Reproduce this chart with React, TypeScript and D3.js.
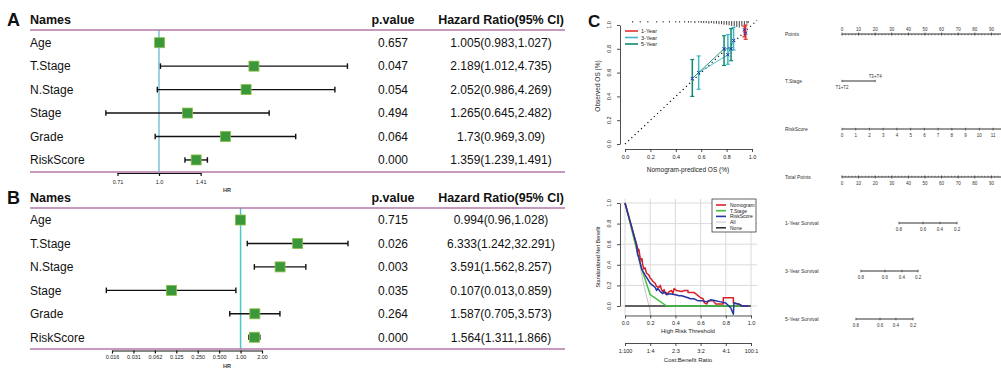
import React, { useEffect, useRef } from "react";
import * as d3 from "d3";

const FONT = "'Liberation Sans', Arial, Helvetica, sans-serif";

// ---- forest plot data ----
const names = ["Age", "T.Stage", "N.Stage", "Stage", "Grade", "RiskScore"];

const uniHR = [1.005, 2.189, 2.052, 1.265, 1.73, 1.359];
const uniLo = [0.983, 1.012, 0.986, 0.645, 0.969, 1.239];
const uniHi = [1.027, 4.735, 4.269, 2.482, 3.09, 1.491];
const uniP = ["0.657", "0.047", "0.054", "0.494", "0.064", "0.000"];
const uniTxt = [
  "1.005(0.983,1.027)",
  "2.189(1.012,4.735)",
  "2.052(0.986,4.269)",
  "1.265(0.645,2.482)",
  "1.73(0.969,3.09)",
  "1.359(1.239,1.491)",
];
const uniTicks = [0.71, 1.0, 1.41];
const uniTickLabels = ["0.71", "1.0", "1.41"];

const multiHR = [0.994, 6.333, 3.591, 0.107, 1.587, 1.564];
const multiLo = [0.96, 1.242, 1.562, 0.013, 0.705, 1.311];
const multiHi = [1.028, 32.291, 8.257, 0.859, 3.573, 1.866];
const multiP = ["0.715", "0.026", "0.003", "0.035", "0.264", "0.000"];
const multiTxt = [
  "0.994(0.96,1.028)",
  "6.333(1.242,32.291)",
  "3.591(1.562,8.257)",
  "0.107(0.013,0.859)",
  "1.587(0.705,3.573)",
  "1.564(1.311,1.866)",
];
const multiTicks = [0.015625, 0.03125, 0.0625, 0.125, 0.25, 0.5, 1, 2];
const multiTickLabels = ["0.016", "0.031", "0.062", "0.125", "0.250", "0.500", "1.00", "2.00"];

// ---- calibration data ----
const calYears = ["1-Year", "3-Year", "5-Year"];
const calColors = ["#e0302e", "#3cb6c8", "#0e8a6c"];
const calPred = [[0.94, 0.95], [0.58, 0.81, 0.855], [0.53, 0.78, 0.835]];
const calObs = [[0.96, 0.93], [0.6, 0.75, 0.87], [0.55, 0.8, 0.8]];
const calLo = [[0.9, 0.88], [0.46, 0.67, 0.79], [0.4, 0.66, 0.7]];
const calHi = [[0.99, 1.0], [0.74, 0.92, 0.98], [0.71, 0.91, 0.97]];
const rugX = [0.06, 0.12, 0.18, 0.25, 0.3, 0.35, 0.4, 0.43, 0.47, 0.5, 0.52, 0.55, 0.58, 0.6, 0.62, 0.64, 0.66, 0.68, 0.7, 0.72, 0.74, 0.76, 0.78, 0.8, 0.82, 0.84, 0.86, 0.88, 0.9, 0.92, 0.94, 0.96, 0.97];
const rugN = [1, 1, 1, 1, 1, 1, 1, 1, 1, 1, 1, 2, 1, 2, 2, 2, 3, 2, 3, 3, 4, 4, 5, 5, 6, 7, 8, 9, 10, 8, 6, 3, 2];

// ---- decision curve data ----
const dcaNames = ["Nomogram", "T.Stage", "RiskScore", "All", "None"];
const dcaColors = ["#d8222a", "#3ec43e", "#2535a4", "#c4c4c4", "#333333"];
const nomogramNB: [number, number][] = [
  [0, 1], [0.05, 0.78], [0.1, 0.56], [0.105, 0.53], [0.11, 0.55], [0.12, 0.47], [0.13, 0.44], [0.135, 0.46],
  [0.14, 0.4], [0.15, 0.36], [0.16, 0.37], [0.17, 0.32], [0.19, 0.3], [0.2, 0.27], [0.21, 0.26], [0.22, 0.24],
  [0.24, 0.22], [0.25, 0.19], [0.27, 0.18], [0.28, 0.2], [0.29, 0.16], [0.3, 0.14], [0.31, 0.16], [0.32, 0.12],
  [0.33, 0.13], [0.34, 0.11], [0.35, 0.14], [0.37, 0.15], [0.38, 0.12], [0.39, 0.17], [0.41, 0.15], [0.45, 0.14],
  [0.47, 0.15], [0.5, 0.15], [0.5, 0.13], [0.55, 0.13], [0.57, 0.11], [0.6, 0.08], [0.62, 0.07], [0.63, 0.03],
  [0.65, 0.02], [0.66, 0.05], [0.7, 0.05], [0.72, 0.02], [0.78, 0.02], [0.78, 0.08], [0.86, 0.08], [0.86, 0.03],
  [0.9, 0.02], [0.93, 0.0], [0.97, 0.0],
];
const tstageNB: [number, number][] = [[0, 1], [0.13, 0.37], [0.2, 0.11], [0.33, 0.0], [0.93, 0.0]];
const riskNB: [number, number][] = [
  [0, 1], [0.05, 0.78], [0.09, 0.6], [0.1, 0.5], [0.11, 0.47], [0.12, 0.42], [0.13, 0.37], [0.14, 0.34],
  [0.16, 0.3], [0.17, 0.28], [0.18, 0.26], [0.2, 0.22], [0.22, 0.2], [0.24, 0.18], [0.25, 0.15], [0.26, 0.17],
  [0.28, 0.14], [0.3, 0.12], [0.31, 0.14], [0.33, 0.11], [0.35, 0.12], [0.4, 0.11], [0.43, 0.1], [0.45, 0.1],
  [0.5, 0.08], [0.52, 0.07], [0.55, 0.07], [0.58, 0.05], [0.62, 0.05], [0.65, 0.04], [0.68, 0.06], [0.72, 0.05],
  [0.76, 0.04], [0.8, 0.03], [0.84, -0.02], [0.86, -0.08], [0.865, 0.03], [0.9, 0.02], [0.93, 0.0], [0.98, 0.0],
];
const allNB: [number, number][] = [[0, 1], [0.05, 0.76], [0.1, 0.5], [0.15, 0.2], [0.19, 0.0], [0.21, -0.12]];
const noneNB: [number, number][] = [[0, 0], [1, 0]];
const costLabels = ["1:100", "1:4", "2:3", "3:2", "4:1", "100:1"];

// ---- nomogram data ----
const pointTicks = [0, 10, 20, 30, 40, 50, 60, 70, 80, 90, 100];
const pointLabels = [0, 10, 20, 30, 40, 50, 60, 70, 80, 90];
const tStageLevels = ["T1+T2", "T3+T4"];
const tStagePts = [0, 20];
const riskTicks = [0, 1, 2, 3, 4, 5, 6, 7, 8, 9, 10, 11, 12];
const riskLabels = [0, 1, 2, 3, 4, 5, 6, 7, 8, 9, 10, 11];
const riskPtsAt11 = 91;
const survLabels = ["0.8", "0.6", "0.4", "0.2"];
const surv1Pts = [34.3, 48.8, 59.0, 69.3];
const surv3Pts = [11.4, 25.9, 36.1, 45.8];
const surv5Pts = [8.4, 22.9, 32.5, 42.8];

const App = () => {
  const ref = useRef<SVGSVGElement>(null);

  useEffect(() => {
    draw();
  });

  const forest = (svg: any, c: any) => {
    const g = svg.append("g").attr("font-family", FONT).attr("fill", "#111");
    g.append("text").attr("x", 7).attr("y", c.headY + 7).attr("font-size", 18).attr("font-weight", "bold").text(c.letter);
    const head = g.append("g").attr("font-size", 12.5).attr("font-weight", "bold");
    head.append("text").attr("x", 30).attr("y", c.headY + 4.5).text("Names");
    head.append("text").attr("x", 393).attr("y", c.headY + 4.5).attr("text-anchor", "middle").text("p.value");
    head.append("text").attr("x", 501).attr("y", c.headY + 4.5).attr("text-anchor", "middle").text("Hazard Ratio(95% CI)");

    const y = d3.scalePoint().domain(names).range([c.rowTop, c.rowTop + 5 * 23.45]);
    const x = d3.scaleLog().base(2).domain(c.domain).range(c.range);

    // reference line at HR = 1
    g.append("line")
      .attr("x1", x(1)).attr("x2", x(1))
      .attr("y1", c.lineTop).attr("y2", c.lineBottom)
      .attr("stroke", c.refColor).attr("stroke-width", 1.5);

    [c.lineTop, c.lineBottom].forEach((ly: number) => {
      g.append("line")
        .attr("x1", 30).attr("x2", 565).attr("y1", ly).attr("y2", ly)
        .attr("stroke", "#b07aa8").attr("stroke-width", 1.5);
    });

    const rows = g.selectAll("g.row").data(names).enter().append("g").attr("class", "row");
    rows.append("text").attr("x", 30).attr("y", (d: string) => (y(d) as number) + 4.3).attr("font-size", 12).text((d: string) => d);
    rows.append("text").attr("x", 393).attr("y", (d: string) => (y(d) as number) + 4.3).attr("font-size", 12)
      .attr("text-anchor", "middle").text((d: string, i: number) => c.p[i]);
    rows.append("text").attr("x", 501).attr("y", (d: string) => (y(d) as number) + 4.3).attr("font-size", 12)
      .attr("text-anchor", "middle").text((d: string, i: number) => c.txt[i]);

    rows.append("line")
      .attr("x1", (d: string, i: number) => x(c.lo[i])).attr("x2", (d: string, i: number) => x(c.hi[i]))
      .attr("y1", (d: string) => y(d)).attr("y2", (d: string) => y(d))
      .attr("stroke", "#111").attr("stroke-width", 1.4);
    ["lo", "hi"].forEach((k) => {
      rows.append("line")
        .attr("x1", (d: string, i: number) => x(c[k][i])).attr("x2", (d: string, i: number) => x(c[k][i]))
        .attr("y1", (d: string) => (y(d) as number) - 2.8).attr("y2", (d: string) => (y(d) as number) + 2.8)
        .attr("stroke", "#111").attr("stroke-width", 1.4);
    });
    rows.append("rect")
      .attr("x", (d: string, i: number) => x(c.hr[i]) - 5).attr("y", (d: string) => (y(d) as number) - 5)
      .attr("width", 10).attr("height", 10)
      .attr("fill", "#3a983a").attr("stroke", "#8cbf4a").attr("stroke-width", 0.8);

    const ax = g.append("g")
      .attr("transform", `translate(0,${c.axisY})`)
      .call(
        d3.axisBottom(x).tickValues(c.ticks).tickFormat((d: any, i: number) => c.tickLabels[i])
          .tickSize(3).tickSizeOuter(0).tickPadding(c.pad)
      );
    ax.attr("font-family", FONT).attr("font-size", 5.5);
    ax.selectAll("path, line").attr("stroke", "#111").attr("stroke-width", 1.2);
    ax.selectAll("text").attr("fill", "#222");
    g.append("text").attr("x", 227).attr("y", c.hrY + 2).attr("font-size", 5.5).attr("font-weight", "bold")
      .attr("text-anchor", "middle").attr("fill", "#333").text("HR");
  };

  const rotLabels = (g: any, vals: number[], sc: any, xPos: number, size: number) => {
    vals.forEach((v) => {
      g.append("text")
        .attr("transform", `translate(${xPos},${sc(v)}) rotate(-90)`)
        .attr("text-anchor", "middle").attr("font-size", size).attr("fill", "#222")
        .text(d3.format(".1f")(v));
    });
  };

  const styleAxis = (ax: any, size: number) => {
    ax.attr("font-family", FONT).attr("font-size", size);
    ax.selectAll("path, line").attr("stroke", "#222").attr("stroke-width", 0.8);
    ax.selectAll("text").attr("fill", "#222");
  };

  const calibration = (svg: any) => {
    const g = svg.append("g").attr("font-family", FONT);
    g.append("text").attr("x", 588).attr("y", 27).attr("font-size", 17).attr("font-weight", "bold").attr("fill", "#111").text("C");

    const x = d3.scaleLinear().domain([0, 1]).range([625, 752]);
    const y = d3.scaleLinear().domain([0, 1]).range([144, 25]);
    const tv = [0, 0.2, 0.4, 0.6, 0.8, 1];

    const ax = g.append("g").attr("transform", "translate(0,149)")
      .call(d3.axisBottom(x).tickValues(tv).tickFormat(d3.format(".1f")).tickSize(3).tickSizeOuter(0).tickPadding(3));
    styleAxis(ax, 5.5);
    const ay = g.append("g").attr("transform", "translate(620,0)")
      .call(d3.axisLeft(y).tickValues(tv).tickFormat(() => "").tickSize(3).tickSizeOuter(0));
    styleAxis(ay, 5.5);
    rotLabels(g, tv, y, 611, 5.5);

    g.append("text").attr("x", 688).attr("y", 172).attr("text-anchor", "middle").attr("font-size", 6.5).attr("fill", "#222")
      .text("Nomogram-prediced OS (%)");
    g.append("text").attr("transform", "translate(599.5,86) rotate(-90)").attr("text-anchor", "middle")
      .attr("font-size", 6.5).attr("fill", "#222").text("Observed OS (%)");

    // ideal line
    g.append("line").attr("x1", x(0)).attr("y1", y(0)).attr("x2", x(1.04)).attr("y2", y(1.04))
      .attr("stroke", "#111").attr("stroke-width", 1.2).attr("stroke-dasharray", "1.2 3.2");

    // spike histogram of predictions
    g.selectAll("line.rug").data(rugX).enter().append("line").attr("class", "rug")
      .attr("x1", (d: number) => x(d)).attr("x2", (d: number) => x(d))
      .attr("y1", 21).attr("y2", (d: number, i: number) => 22 + rugN[i] * 0.55)
      .attr("stroke", "#111").attr("stroke-width", 0.8);

    calYears.forEach((yr, k) => {
      const col = calColors[k];
      const pts = calPred[k].map((p, i) => [x(p), y(calObs[k][i])] as [number, number]);
      g.append("path").attr("d", d3.line()(pts)).attr("fill", "none").attr("stroke", col).attr("stroke-width", 0.9);
      calPred[k].forEach((p, i) => {
        g.append("line").attr("x1", x(p)).attr("x2", x(p)).attr("y1", y(calLo[k][i])).attr("y2", y(calHi[k][i]))
          .attr("stroke", col).attr("stroke-width", 1.5);
        [calLo[k][i], calHi[k][i]].forEach((v) => {
          g.append("line").attr("x1", x(p) - 2).attr("x2", x(p) + 2).attr("y1", y(v)).attr("y2", y(v))
            .attr("stroke", col).attr("stroke-width", 1.2);
        });
      });
      pts.forEach(([px, py]) => {
        g.append("path").attr("d", `M${px - 1.6},${py - 1.6}L${px + 1.6},${py + 1.6}M${px - 1.6},${py + 1.6}L${px + 1.6},${py - 1.6}`)
          .attr("stroke", "#2630c8").attr("stroke-width", 1);
      });
      // legend
      const ly = 31 + k * 6.5;
      g.append("line").attr("x1", 625).attr("x2", 638).attr("y1", ly).attr("y2", ly).attr("stroke", col).attr("stroke-width", 1.6);
      g.append("text").attr("x", 641).attr("y", ly + 2).attr("font-size", 5.5).attr("fill", "#222").text(yr);
    });
  };

  const dca = (svg: any) => {
    const g = svg.append("g").attr("font-family", FONT);
    const x = d3.scaleLinear().domain([0, 1]).range([625, 751]);
    const y = d3.scaleLinear().domain([0, 1]).range([306, 203]);
    const tv = [0, 0.2, 0.4, 0.6, 0.8, 1];
    const top = y(1.042);
    const bottom = y(-0.092);

    tv.forEach((v) => {
      g.append("line").attr("x1", x(v)).attr("x2", x(v)).attr("y1", top).attr("y2", bottom).attr("stroke", "#dadada").attr("stroke-width", 1);
      g.append("line").attr("x1", 620).attr("x2", 757).attr("y1", y(v)).attr("y2", y(v)).attr("stroke", "#dadada").attr("stroke-width", 1);
    });

    g.append("clipPath").attr("id", "dcaClip").append("rect")
      .attr("x", 620).attr("y", top).attr("width", 137).attr("height", bottom - top);

    const series = [nomogramNB, tstageNB, riskNB, allNB, noneNB];
    const order = [3, 4, 1, 0, 2];
    const line = d3.line().x((d: any) => x(d[0])).y((d: any) => y(d[1]));
    order.forEach((k) => {
      g.append("path").attr("d", line(series[k] as any)).attr("clip-path", "url(#dcaClip)")
        .attr("fill", "none").attr("stroke", dcaColors[k]).attr("stroke-width", k === 3 ? 1 : 1.5)
        .attr("stroke-linejoin", "round");
    });

    const ax = g.append("g").attr("transform", `translate(0,${bottom})`)
      .call(d3.axisBottom(x).tickValues(tv).tickFormat(d3.format(".1f")).tickSize(3).tickSizeOuter(0).tickPadding(3));
    styleAxis(ax, 5.5);
    g.append("text").attr("x", 688).attr("y", 333).attr("text-anchor", "middle").attr("font-size", 6).attr("fill", "#222")
      .text("High Risk Threshold");
    const ax2 = g.append("g").attr("transform", "translate(0,343)")
      .call(d3.axisBottom(x).tickValues(tv).tickFormat((d: any, i: number) => costLabels[i]).tickSize(3).tickSizeOuter(0).tickPadding(3));
    styleAxis(ax2, 5.5);
    g.append("text").attr("x", 688).attr("y", 362).attr("text-anchor", "middle").attr("font-size", 6).attr("fill", "#222")
      .text("Cost:Benefit Ratio");

    const ay = g.append("g").attr("transform", "translate(620,0)")
      .call(d3.axisLeft(y).tickValues(tv).tickFormat(() => "").tickSize(3).tickSizeOuter(0));
    styleAxis(ay, 5.5);
    rotLabels(g, tv, y, 611, 5.5);
    g.append("text").attr("transform", "translate(599.5,257) rotate(-90)").attr("text-anchor", "middle")
      .attr("font-size", 5.5).attr("fill", "#222").text("Standardized Net Benefit");

    // legend
    g.append("rect").attr("x", 712).attr("y", 199).attr("width", 44).attr("height", 33)
      .attr("fill", "#fff").attr("stroke", "#222").attr("stroke-width", 0.7);
    dcaNames.forEach((n, i) => {
      const ly = 205 + i * 5.7;
      g.append("line").attr("x1", 716).attr("x2", 726).attr("y1", ly).attr("y2", ly)
        .attr("stroke", dcaColors[i]).attr("stroke-width", i === 3 ? 1 : 1.6);
      g.append("text").attr("x", 730).attr("y", ly + 1.8).attr("font-size", 5).attr("fill", "#222").text(n);
    });
  };

  const nomogram = (svg: any) => {
    const g = svg.append("g").attr("font-family", FONT).attr("fill", "#333");
    const pts = d3.scaleLinear().domain([0, 100]).range([842, 1008]);
    const lab = (t: string, ly: number) =>
      g.append("text").attr("x", 785).attr("y", ly + 1.8).attr("font-size", 5).text(t);
    const stroke = (sel: any, w = 0.8) => sel.attr("stroke", "#333").attr("stroke-width", w);
    const minor = d3.range(0, 101, 2);

    // Points
    lab("Points", 34);
    stroke(g.append("line").attr("x1", pts(0)).attr("x2", pts(100)).attr("y1", 34).attr("y2", 34), 1);
    minor.forEach((v) => stroke(g.append("line").attr("x1", pts(v)).attr("x2", pts(v)).attr("y1", 34).attr("y2", 35.3), 0.6));
    pointTicks.forEach((v) => {
      stroke(g.append("line").attr("x1", pts(v)).attr("x2", pts(v)).attr("y1", 32.5).attr("y2", 35.5), 0.7);
    });
    pointLabels.forEach((v) => {
      g.append("text").attr("x", pts(v)).attr("y", 30.5).attr("text-anchor", "middle").attr("font-size", 4.5).text(v);
    });

    // T.Stage
    lab("T.Stage", 81);
    stroke(g.append("line").attr("x1", pts(tStagePts[0])).attr("x2", pts(tStagePts[1])).attr("y1", 81).attr("y2", 81), 1);
    tStageLevels.forEach((t, i) => {
      stroke(g.append("line").attr("x1", pts(tStagePts[i])).attr("x2", pts(tStagePts[i])).attr("y1", 79.8).attr("y2", 82.2), 0.7);
      g.append("text").attr("x", pts(tStagePts[i])).attr("y", i === 0 ? 88.5 : 77.5).attr("text-anchor", "middle")
        .attr("font-size", 4.5).text(t);
    });

    // RiskScore
    lab("RiskScore", 129);
    const rs = d3.scaleLinear().domain([0, 11]).range([pts(0), pts(riskPtsAt11)]);
    stroke(g.append("line").attr("x1", rs(0)).attr("x2", rs(12)).attr("y1", 129).attr("y2", 129), 1);
    riskTicks.forEach((v) => {
      stroke(g.append("line").attr("x1", rs(v)).attr("x2", rs(v)).attr("y1", 127.8).attr("y2", 130.5), 0.7);
    });
    riskLabels.forEach((v) => {
      g.append("text").attr("x", rs(v)).attr("y", 137).attr("text-anchor", "middle").attr("font-size", 4.5).text(v);
    });

    // Total Points
    lab("Total Points", 177);
    stroke(g.append("line").attr("x1", pts(0)).attr("x2", pts(100)).attr("y1", 177).attr("y2", 177), 1);
    minor.forEach((v) => stroke(g.append("line").attr("x1", pts(v)).attr("x2", pts(v)).attr("y1", 175.7).attr("y2", 177), 0.6));
    pointTicks.forEach((v) => {
      stroke(g.append("line").attr("x1", pts(v)).attr("x2", pts(v)).attr("y1", 175.5).attr("y2", 178.5), 0.7);
    });
    pointLabels.forEach((v) => {
      g.append("text").attr("x", pts(v)).attr("y", 184.5).attr("text-anchor", "middle").attr("font-size", 4.5).text(v);
    });

    // survival axes
    const surv = [
      ["1-Year Survival", 223, surv1Pts],
      ["3-Year Survival", 271, surv3Pts],
      ["5-Year Survival", 319, surv5Pts],
    ] as [string, number, number[]][];
    surv.forEach(([t, ly, p]) => {
      lab(t, ly);
      stroke(g.append("line").attr("x1", pts(p[0])).attr("x2", pts(p[p.length - 1])).attr("y1", ly).attr("y2", ly), 1);
      p.forEach((v, i) => {
        stroke(g.append("line").attr("x1", pts(v)).attr("x2", pts(v)).attr("y1", ly - 1.3).attr("y2", ly + 1.3), 0.7);
        g.append("text").attr("x", pts(v)).attr("y", ly + 7.5).attr("text-anchor", "middle").attr("font-size", 4.5).text(survLabels[i]);
      });
    });
  };

  const draw = () => {
    const svg = d3.select(ref.current);
    svg.selectAll("*").remove();

    forest(svg, {
      letter: "A", headY: 19, lineTop: 30, lineBottom: 172, rowTop: 42.7,
      hr: uniHR, lo: uniLo, hi: uniHi, p: uniP, txt: uniTxt,
      domain: [Math.SQRT1_2, Math.SQRT2], range: [117, 201],
      ticks: uniTicks, tickLabels: uniTickLabels, axisY: 173, pad: 4.5, hrY: 190,
      refColor: "#7cc2d8",
    });
    forest(svg, {
      letter: "B", headY: 197, lineTop: 208, lineBottom: 349, rowTop: 220,
      hr: multiHR, lo: multiLo, hi: multiHi, p: multiP, txt: multiTxt,
      domain: [0.015625, 2], range: [112, 262],
      ticks: multiTicks, tickLabels: multiTickLabels, axisY: 350.5, pad: 1.8, hrY: 366,
      refColor: "#4ec6c8",
    });
    calibration(svg);
    dca(svg);
    nomogram(svg);
  };

  return (
    <svg
      ref={ref}
      width={1001}
      height={368}
      style={{ position: "absolute", left: 0, top: 0, background: "#fff" }}
    />
  );
};

export default App;
